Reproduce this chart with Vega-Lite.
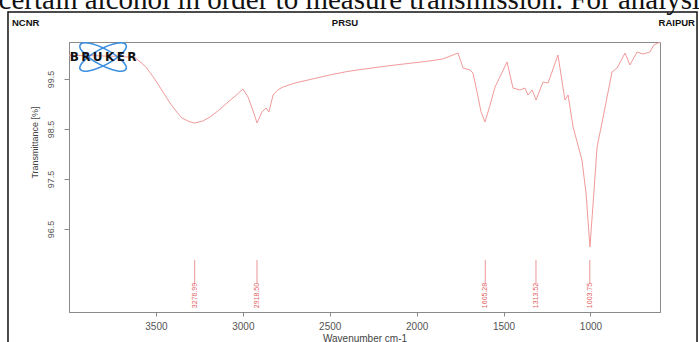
{
  "$schema": "https://vega.github.io/schema/vega-lite/v6.json",
  "width": 591,
  "height": 270,
  "autosize": {"type": "none"},
  "padding": {"left": 69, "top": 42, "right": 39, "bottom": 30},
  "background": "white",
  "config": {
    "view": {"stroke": "#8a8a8a", "strokeWidth": 1},
    "font": "Liberation Sans",
    "axis": {"grid": false, "domainColor": "#8a8a8a", "tickColor": "#8a8a8a", "labelColor": "#555555", "titleColor": "#444444", "titleFontWeight": "normal", "labelFont": "Liberation Sans", "titleFont": "Liberation Sans"}
  },
  "datasets": {
    "spectrum": [
      {"wn": 4000, "t": 99.97}, {"wn": 3900, "t": 99.97}, {"wn": 3800, "t": 99.96}, {"wn": 3700, "t": 99.95},
      {"wn": 3620, "t": 99.93}, {"wn": 3560, "t": 99.75}, {"wn": 3517, "t": 99.55}, {"wn": 3470, "t": 99.3},
      {"wn": 3419, "t": 99.02}, {"wn": 3380, "t": 98.84}, {"wn": 3350, "t": 98.72}, {"wn": 3310, "t": 98.65},
      {"wn": 3279, "t": 98.62}, {"wn": 3230, "t": 98.66}, {"wn": 3189, "t": 98.74}, {"wn": 3140, "t": 98.87},
      {"wn": 3091, "t": 99.02}, {"wn": 3040, "t": 99.17}, {"wn": 2999, "t": 99.3}, {"wn": 2970, "t": 99.14},
      {"wn": 2945, "t": 98.9}, {"wn": 2918, "t": 98.62}, {"wn": 2890, "t": 98.84}, {"wn": 2867, "t": 98.92},
      {"wn": 2850, "t": 98.84}, {"wn": 2826, "t": 99.18}, {"wn": 2800, "t": 99.28}, {"wn": 2769, "t": 99.34},
      {"wn": 2700, "t": 99.42}, {"wn": 2600, "t": 99.5}, {"wn": 2500, "t": 99.58}, {"wn": 2400, "t": 99.65},
      {"wn": 2300, "t": 99.7}, {"wn": 2171, "t": 99.76}, {"wn": 2050, "t": 99.81}, {"wn": 1950, "t": 99.85},
      {"wn": 1850, "t": 99.9}, {"wn": 1762, "t": 100.02}, {"wn": 1733, "t": 99.72}, {"wn": 1693, "t": 99.68},
      {"wn": 1676, "t": 99.62}, {"wn": 1650, "t": 99.2}, {"wn": 1630, "t": 98.85}, {"wn": 1607, "t": 98.64},
      {"wn": 1580, "t": 98.95}, {"wn": 1549, "t": 99.34}, {"wn": 1510, "t": 99.62}, {"wn": 1480, "t": 99.84},
      {"wn": 1446, "t": 99.32}, {"wn": 1405, "t": 99.28}, {"wn": 1377, "t": 99.32}, {"wn": 1359, "t": 99.18},
      {"wn": 1336, "t": 99.28}, {"wn": 1313, "t": 99.08}, {"wn": 1273, "t": 99.44}, {"wn": 1244, "t": 99.42},
      {"wn": 1187, "t": 99.98}, {"wn": 1147, "t": 99.08}, {"wn": 1129, "t": 99.18}, {"wn": 1100, "t": 98.54},
      {"wn": 1049, "t": 97.88}, {"wn": 1025, "t": 97.2}, {"wn": 1003, "t": 96.14}, {"wn": 985, "t": 97.0},
      {"wn": 962, "t": 98.14}, {"wn": 934, "t": 98.62}, {"wn": 876, "t": 99.64}, {"wn": 847, "t": 99.72},
      {"wn": 801, "t": 100.02}, {"wn": 773, "t": 99.78}, {"wn": 732, "t": 100.04}, {"wn": 698, "t": 100.0},
      {"wn": 658, "t": 100.04}, {"wn": 635, "t": 100.18}, {"wn": 600, "t": 100.24}
    ],
    "peaks": [
      {"wn": 3276.99, "label": "3276.99"},
      {"wn": 2918.5, "label": "2918.50"},
      {"wn": 1605.28, "label": "1605.28"},
      {"wn": 1313.52, "label": "1313.52"},
      {"wn": 1003.75, "label": "1003.75"}
    ]
  },
  "layer": [
    {
      "data": {"name": "spectrum"},
      "mark": {"type": "line", "color": "#f29a9a", "strokeWidth": 1},
      "encoding": {
        "x": {"field": "wn", "type": "quantitative",
          "scale": {"domain": [600, 4000], "reverse": true, "nice": false, "zero": false},
          "axis": {"values": [1000, 1500, 2000, 2500, 3000, 3500], "format": "d", "tickSize": 4, "labelPadding": 5, "labelFontSize": 10, "title": "Wavenumber cm-1", "titleFontSize": 10, "titlePadding": 2}},
        "y": {"field": "t", "type": "quantitative",
          "scale": {"domain": [94.84, 100.24], "nice": false, "zero": false},
          "axis": {"values": [96.5, 97, 97.5, 98, 98.5, 99, 99.5, 100], "labelExpr": "datum.value % 1 == 0.5 ? format(datum.value, '.1f') : ''", "tickSize": 5, "labelAngle": -90, "labelAlign": "center", "labelBaseline": "bottom", "labelPadding": 9, "labelFontSize": 9, "title": "Transmittance [%]", "titleFontSize": 9, "titleAngle": -90, "titleAlign": "center", "titleBaseline": "middle", "titleX": -35, "titleY": 100}}
      }
    },
    {
      "data": {"name": "peaks"},
      "mark": {"type": "rule", "color": "#e87a7a", "strokeWidth": 0.8},
      "encoding": {
        "x": {"field": "wn", "type": "quantitative"},
        "y": {"datum": 95.88, "type": "quantitative"},
        "y2": {"datum": 95.4}
      }
    },
    {
      "data": {"name": "peaks"},
      "mark": {"type": "text", "color": "#e06060", "fontSize": 7, "angle": 270, "align": "center", "baseline": "middle"},
      "encoding": {
        "x": {"field": "wn", "type": "quantitative"},
        "y": {"datum": 95.17, "type": "quantitative"},
        "text": {"field": "label"}
      }
    },
    {
      "data": {"values": [{"a": 28}, {"a": -28}]},
      "mark": {"type": "point", "shape": "M -1 0 A 1 0.31 0 1 0 1 0 A 1 0.31 0 1 0 -1 0 Z", "filled": false, "stroke": "#3d8fe0", "strokeWidth": 1.6, "size": 2704, "opacity": 1},
      "encoding": {
        "x": {"datum": 3804, "type": "quantitative"},
        "y": {"datum": 99.94, "type": "quantitative"},
        "angle": {"field": "a", "type": "quantitative", "scale": null}
      }
    },
    {
      "data": {"values": [{"label": "B\u2009R\u2009U\u2009K\u2009E\u2009R"}]},
      "mark": {"type": "text", "font": "DejaVu Sans", "fontWeight": "bold", "fontSize": 12, "color": "#111111", "align": "center", "baseline": "middle"},
      "encoding": {
        "x": {"datum": 3804, "type": "quantitative"},
        "y": {"datum": 99.94, "type": "quantitative"},
        "text": {"field": "label"}
      }
    },
    {
      "data": {"values": [{"label": "NCNR"}]},
      "mark": {"type": "text", "fontWeight": "bold", "fontSize": 9.5, "color": "#111111", "align": "left", "baseline": "middle"},
      "encoding": {
        "x": {"datum": 4328, "type": "quantitative"},
        "y": {"datum": 100.62, "type": "quantitative"},
        "text": {"field": "label"}
      }
    },
    {
      "data": {"values": [{"label": "PRSU"}]},
      "mark": {"type": "text", "fontWeight": "bold", "fontSize": 9.5, "color": "#111111", "align": "center", "baseline": "middle"},
      "encoding": {
        "x": {"datum": 2412, "type": "quantitative"},
        "y": {"datum": 100.62, "type": "quantitative"},
        "text": {"field": "label"}
      }
    },
    {
      "data": {"values": [{"label": "RAIPUR"}]},
      "mark": {"type": "text", "fontWeight": "bold", "fontSize": 9.5, "color": "#111111", "align": "right", "baseline": "middle"},
      "encoding": {
        "x": {"datum": 399, "type": "quantitative"},
        "y": {"datum": 100.62, "type": "quantitative"},
        "text": {"field": "label"}
      }
    },
    {
      "data": {"values": [{"label": "certain alcohol in order to measure transmission. For analysis"}]},
      "mark": {"type": "text", "font": "Liberation Serif", "fontSize": 29, "color": "#111111", "align": "left", "baseline": "alphabetic"},
      "encoding": {
        "x": {"datum": 4405, "type": "quantitative"},
        "y": {"datum": 100.9, "type": "quantitative"},
        "text": {"field": "label"}
      }
    },
    {
      "data": {"values": [{}]},
      "mark": {"type": "rect", "fillOpacity": 0, "stroke": "#111111", "strokeWidth": 1.5},
      "encoding": {
        "x": {"datum": 4351, "type": "quantitative"},
        "x2": {"datum": 387},
        "y": {"datum": 100.84, "type": "quantitative"},
        "y2": {"datum": 94.18}
      }
    }
  ]
}
